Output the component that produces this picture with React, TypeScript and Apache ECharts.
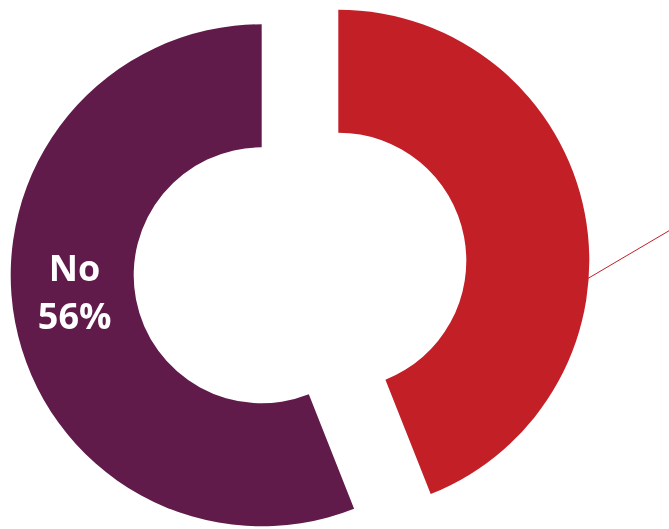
import React, { useEffect, useRef } from "react";
import * as echarts from "echarts";

const categories = ["Yes", "No"];
const values = [44, 56];
const colors = ["#C31F27", "#611B4B"];

export default function App() {
  const ref = useRef<HTMLDivElement>(null);
  useEffect(() => {
    if (!ref.current) return;
    const chart = echarts.init(ref.current, undefined, { renderer: "svg" });
    chart.setOption({
      animation: false,
      graphic: [
        {
          type: "line",
          shape: { x1: 587, y1: 279, x2: 672, y2: 229 },
          style: { stroke: colors[0], lineWidth: 1 },
          silent: true,
        },
      ],
      series: [
        {
          type: "pie",
          center: [300, 268],
          radius: [128, 251],
          startAngle: 90,
          clockwise: true,
          selectedMode: "multiple",
          selectedOffset: 39,
          avoidLabelOverlap: false,
          data: categories.map((c, i) => ({
            name: c,
            value: values[i],
            selected: true,
            itemStyle: { color: colors[i] },
            label:
              i === 1
                ? {
                    show: true,
                    position: "inside",
                    formatter: "{b}\n{d}%",
                    color: "#fff",
                    fontFamily: "Open Sans",
                    fontWeight: "bold",
                    fontSize: 36,
                    lineHeight: 48,
                  }
                : { show: false },
            labelLine: { show: false },
          })),
          labelLayout: (params: any) => {
            if (params.dataIndex === 1) {
              return { dx: 2, dy: -20 };
            }
            return {};
          },
        },
      ],
    });
    return () => chart.dispose();
  }, []);
  return (
    <div
      ref={ref}
      style={{ position: "fixed", left: 0, top: 0, width: 669, height: 529 }}
    />
  );
}
